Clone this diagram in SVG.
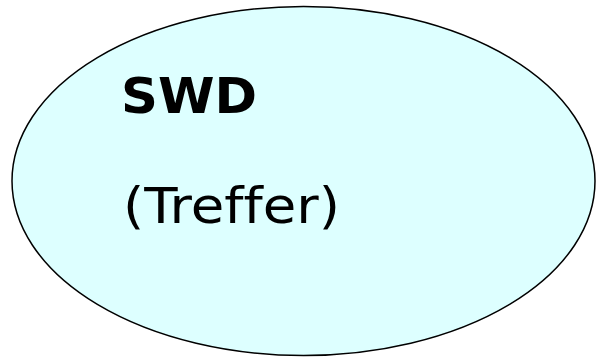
<svg xmlns="http://www.w3.org/2000/svg" width="596" height="357" viewBox="0 0 596 357">
<style>
.node{fill:#DDFFFF;stroke:#000;stroke-width:1.5}
.t{font-family:"DejaVu Sans","Liberation Sans",sans-serif;fill:#000;font-variant-ligatures:none}
</style>
<rect width="596" height="357" fill="#fff"/>
<g id="swd">
<ellipse class="node" cx="303.5" cy="181" rx="291.5" ry="174.5"/>
<text class="t" x="121" y="113" font-size="50" font-weight="bold" textLength="136" lengthAdjust="spacingAndGlyphs">SWD</text>
<text class="t" x="123" y="223" font-size="49" textLength="217" lengthAdjust="spacingAndGlyphs">(Treffer)</text>
</g>
<g id="connectors"/>
</svg>
